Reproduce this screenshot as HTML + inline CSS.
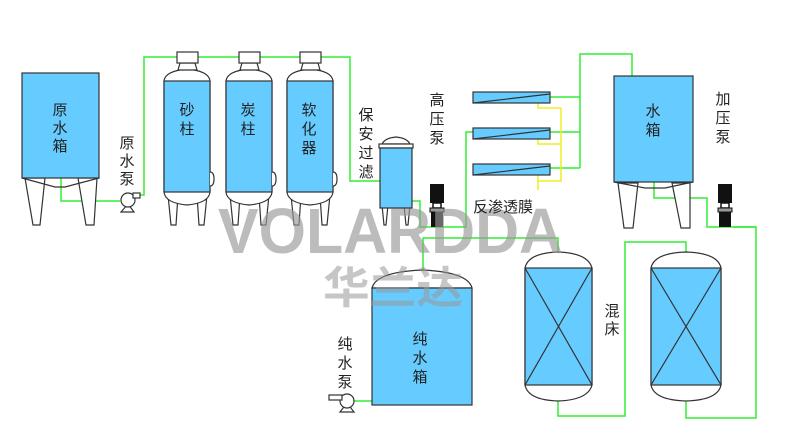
<!DOCTYPE html>
<html><head><meta charset="utf-8"><style>
html,body{margin:0;padding:0;background:#fff;}
svg{display:block;}
text{font-family:"Liberation Sans","Noto Sans CJK SC",sans-serif;}
.lb{font-size:15px;fill:#222;text-anchor:middle;}
</style></head><body>
<svg width="800" height="447" viewBox="0 0 800 447" xmlns="http://www.w3.org/2000/svg">
<defs>
<g id="pump">
<rect x="0" y="0" width="14" height="19" fill="#111"/>
<rect x="3" y="19" width="8" height="5" fill="#fff" stroke="#111" stroke-width="1.5"/>
<rect x="0" y="24" width="14" height="4" fill="#999" stroke="#111"/>
<rect x="1" y="28" width="12" height="15" fill="#111"/>
</g>
</defs>
<g fill="none" stroke="#33ee33" stroke-width="1.5">
<polyline points="61,178 61,201 120,201"/>
<polyline points="136,195 144,195 144,57 350,57 350,181 380,181"/>
<polyline points="550,97 580,97"/><polyline points="550,132 580,132"/><polyline points="550,168 580,168"/>
<polyline points="580,168 580,54 632,54 632,76"/>
<polyline points="412,201 420,201 420,227 466,227 466,132 473,132"/>
<polyline points="654,182 654,198 707,198 707,227 756,227 756,418 686,418 686,401"/>
<polyline points="733,227 756,227"/>
<polyline points="423,270 423,238 558,238 558,252"/>
<polyline points="558,401 558,416 625,416 625,242 686,242 686,252"/>
<polyline points="352,401 376,401"/>
</g>
<g fill="none" stroke="#eeee22" stroke-width="1.5">
<polyline points="538,103 538,108 561,108"/>
<polyline points="538,139 538,144 561,144"/>
<polyline points="538,175 538,190"/>
<polyline points="538,181 561,181 561,108"/>
</g>
<g stroke="#333" stroke-width="1.2">
<polygon points="25,178 45,178 40,225 33,225" fill="#fff"/>
<polygon points="78,178 97,178 94,225 86,225" fill="#fff"/>
<polyline points="22,178 55,187 65,187 99,178" fill="none"/>
<rect x="22" y="73" width="77" height="105" fill="#66ccff"/>
<g id="col">
<polygon points="168,195 178,195 176,225 171,225" fill="#fff"/>
<polygon points="197,195 207,195 204,225 199,225" fill="#fff"/>
<path d="M164,81 Q165,71 187,69 Q209,71 210,81 L210,192 Q209,203 187,205 Q165,203 164,192 Z" fill="#fff"/>
<rect x="164" y="81" width="46" height="111" fill="#66ccff"/>
<polygon points="180,63 195,63 197,70 178,70" fill="#fff"/>
<rect x="177" y="52" width="21" height="11" fill="#fff"/>
<path d="M210,172 Q214,172 214,179 Q214,186 210,186" fill="#fff"/>
</g>
<use href="#col" x="62"/>
<use href="#col" x="123"/>
<polygon points="382,205 388,205 386,225 384,225" fill="#fff"/>
<polygon points="404,205 410,205 408,225 406,225" fill="#fff"/>
<path d="M382,144 Q385,138 396,137 Q407,138 410,144 Z" fill="#fff"/>
<rect x="379" y="144" width="34" height="4" fill="#fff"/>
<rect x="380" y="148" width="32" height="60" fill="#66ccff"/>
<rect x="473" y="92" width="77" height="11" fill="#66ccff"/><line x1="473" y1="103" x2="550" y2="94"/>
<rect x="473" y="128" width="77" height="11" fill="#66ccff"/><line x1="473" y1="139" x2="550" y2="130"/>
<rect x="473" y="164" width="77" height="11" fill="#66ccff"/><line x1="473" y1="175" x2="550" y2="166"/>
<polygon points="618,183 638,183 633,228 624,228" fill="#fff"/>
<polygon points="672,183 690,183 690,228 681,228" fill="#fff"/>
<polyline points="614,182 645,188 665,188 693,182" fill="none"/>
<rect x="614" y="76" width="79" height="106" fill="#66ccff"/>
<path d="M372,288 Q376,272 422,270 Q468,272 472,288 Z" fill="#fff"/>
<rect x="372" y="288" width="100" height="117" fill="#66ccff"/>
<path d="M525,268 Q528,253 558,252 Q588,253 592,268 L592,385 Q588,400 558,401 Q528,400 525,385 Z" fill="#fff"/>
<rect x="525" y="268" width="67" height="117" fill="#66ccff"/>
<line x1="525" y1="268" x2="592" y2="385"/><line x1="592" y1="268" x2="525" y2="385"/>
<path d="M651,268 Q654,253 686,252 Q718,253 721,268 L721,385 Q718,400 686,401 Q654,400 651,385 Z" fill="#fff"/>
<rect x="651" y="268" width="70" height="117" fill="#66ccff"/>
<line x1="651" y1="268" x2="721" y2="385"/><line x1="721" y1="268" x2="651" y2="385"/>
<polygon points="121,212 134,212 128,204" fill="#fff"/>
<circle cx="128" cy="200" r="7" fill="#fff"/>
<rect x="133" y="193" width="7" height="5" fill="#fff"/>
<polygon points="340,412 354,412 347,403" fill="#fff"/>
<circle cx="347" cy="401" r="7" fill="#fff"/>
<rect x="329" y="395" width="13" height="5" fill="#fff"/>
</g>
<use href="#pump" x="430" y="184"/>
<use href="#pump" x="718" y="184"/>
<text x="218" y="253" font-size="64" font-weight="bold" fill="#999" opacity="0.65" textLength="345" lengthAdjust="spacingAndGlyphs">VOLARDDA</text>
<text x="323" y="303" font-size="44" font-weight="bold" fill="#999" opacity="0.55" textLength="140" lengthAdjust="spacingAndGlyphs" style="font-family:'Noto Sans CJK SC',sans-serif">华兰达</text>
<g class="lb">
<text x="60" y="115">原</text><text x="60" y="133">水</text><text x="60" y="151">箱</text>
<text x="127" y="148">原</text><text x="127" y="166">水</text><text x="127" y="184">泵</text>
<text x="187" y="115">砂</text><text x="187" y="134">柱</text>
<text x="248" y="115">炭</text><text x="248" y="134">柱</text>
<text x="309" y="115">软</text><text x="309" y="134">化</text><text x="309" y="153">器</text>
<text x="366" y="120">保</text><text x="366" y="139">安</text><text x="366" y="158">过</text><text x="366" y="177">滤</text>
<text x="437" y="105">高</text><text x="437" y="124">压</text><text x="437" y="143">泵</text>
<text x="503" y="212">反渗透膜</text>
<text x="653" y="116">水</text><text x="653" y="135">箱</text>
<text x="723" y="104">加</text><text x="723" y="123">压</text><text x="723" y="142">泵</text>
<text x="612" y="316">混</text><text x="612" y="334">床</text>
<text x="345" y="349">纯</text><text x="345" y="368">水</text><text x="345" y="387">泵</text>
<text x="420" y="344">纯</text><text x="420" y="363">水</text><text x="420" y="382">箱</text>
</g>
</svg>
</body></html>
